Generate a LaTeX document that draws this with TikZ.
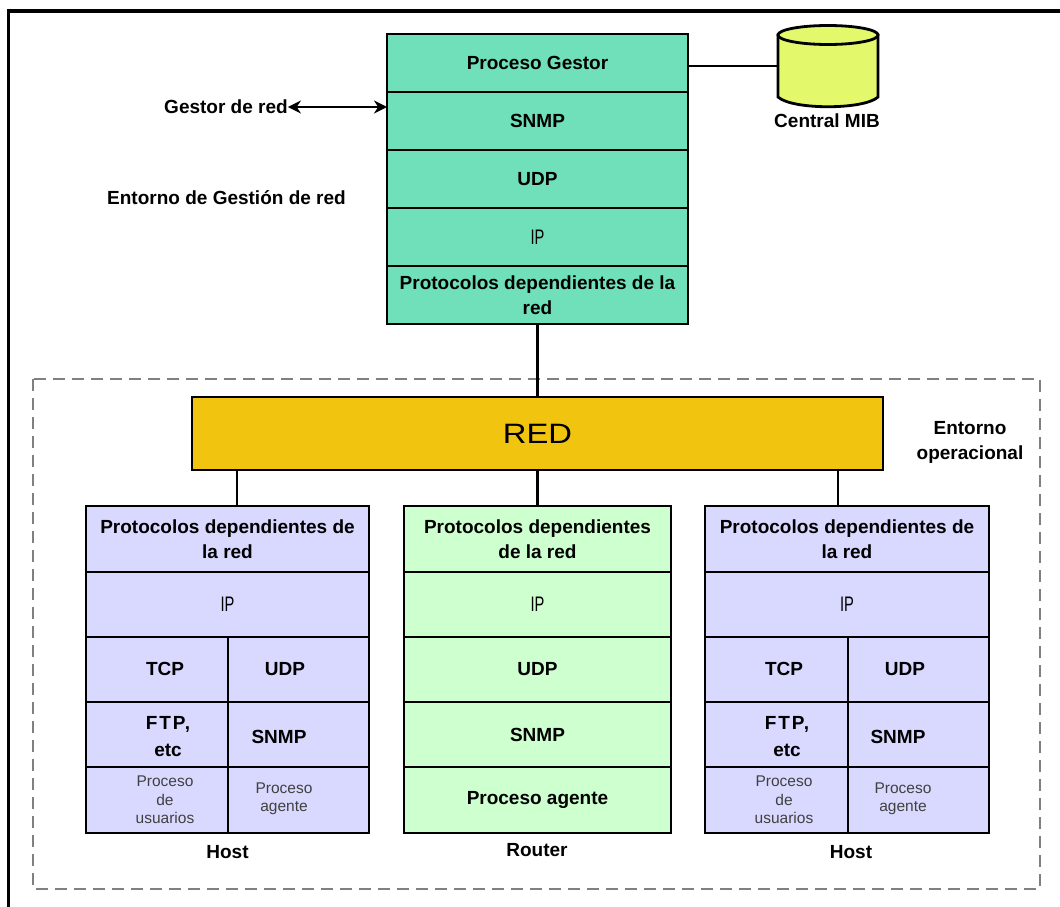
\documentclass[tikz,border=0pt]{standalone}
\usepackage{fontspec}
\setmainfont{Liberation Sans}
\usetikzlibrary{arrows.meta}
\definecolor{gestor}{HTML}{6FE0BA}
\definecolor{amarillo}{HTML}{E4F86C}
\definecolor{ocre}{HTML}{F0C40F}
\definecolor{lila}{HTML}{D9D9FF}
\definecolor{verde}{HTML}{CEFFCE}
\newcommand{\capaIp}{\scalebox{.7}[1]{IP}}
\tikzset{
  capa/.style={draw, line width=2.8pt, inner sep=0pt, outer sep=0pt, align=center, font=\bfseries\fontsize{19}{25}\selectfont},
  linea/.style={line width=2.8pt},
  texto/.style={inner sep=0pt, align=center, font=\bfseries\fontsize{19}{25}\selectfont},
  fino/.style={inner sep=0pt, align=center, font=\fontsize{15.5}{18.5}\selectfont, text=black!75},
  delgado/.style={font=\fontsize{21}{25}\selectfont}
}
\begin{document}
\begin{tikzpicture}[x=1pt, y=-1pt]
  \useasboundingbox (0, 0) rectangle (1060, 907);
  \draw[line width=3.6pt] (8.5, 907) -- (8.5, 11) -- (1060, 11);
  \draw[line width=2.6pt, gray, dash pattern=on 12pt off 7pt] (33, 379) rectangle (1040, 889);

  \node[capa, fill=gestor, minimum width=301pt, minimum height=58pt] (gesProceso) at (537.5, 63) {Proceso Gestor};
  \node[capa, fill=gestor, minimum width=301pt, minimum height=58pt] (gesSnmp) at (537.5, 121) {SNMP};
  \node[capa, fill=gestor, minimum width=301pt, minimum height=58pt] (gesUdp) at (537.5, 179) {UDP};
  \node[capa, delgado, fill=gestor, minimum width=301pt, minimum height=58pt] (gesIp) at (537.5, 237) {\capaIp};
  \node[capa, fill=gestor, minimum width=301pt, minimum height=58pt] (gesProto) at (537.5, 295) {Protocolos dependientes de la\\red};

  \node[inner sep=0pt, minimum width=100pt, minimum height=81pt] (mib) at (828, 66) {};
  \draw[linea, fill=amarillo] (778, 35) -- (778, 97)
    .. controls (792, 110) and (864, 110)
    .. (878, 97) -- (878, 35) -- cycle;
  \draw[linea, fill=amarillo] (828, 35) ellipse (50pt and 9.5pt);
  \node[texto] (mibTexto) at (827, 121) {Central MIB};
  \draw[linea] (gesProceso.east |- mib.west) -- (mib.west);

  \node[texto] (gestorRed) at (226, 107) {Gestor de red};
  \node[texto] (entornoGes) at (226.5, 198) {Entorno de Gestión de red};
  \draw[linea, {Stealth[length=13pt, width=13pt]}-{Stealth[length=13pt, width=13pt]}] (gestorRed.east) -- (gestorRed.east -| gesSnmp.west);

  \node[capa, font=\fontsize{28}{30}\selectfont, fill=ocre, minimum width=691pt, minimum height=73pt] (red) at (537.5, 433.5) {\scalebox{1.17}[1]{RED}};
  \node[texto] (entornoOp) at (970, 442) {Entorno\\operacional};
  \draw[linea] (gesProto.south) -- (gesProto.south |- red.north);

  \node[capa, fill=lila, minimum width=283pt, minimum height=66pt] (hostaProto) at (227.5, 539) {Protocolos dependientes de\\la red};
  \node[capa, delgado, fill=lila, minimum width=283pt, minimum height=65pt] (hostaIp) at (227.5, 604.5) {\capaIp};
  \node[capa, fill=lila, minimum width=142pt, minimum height=65pt] (hostaTcp) at (157, 669.5) {};
  \node[capa, fill=lila, minimum width=141pt, minimum height=65pt] (hostaUdp) at (298.5, 669.5) {};
  \node[capa, fill=lila, minimum width=142pt, minimum height=65pt] (hostaFtp) at (157, 734.5) {};
  \node[capa, fill=lila, minimum width=141pt, minimum height=65pt] (hostaSnmp) at (298.5, 734.5) {};
  \node[capa, fill=lila, minimum width=142pt, minimum height=66pt] (hostaUsr) at (157, 800) {};
  \node[capa, fill=lila, minimum width=141pt, minimum height=66pt] (hostaAge) at (298.5, 800) {};
  \node[texto] (hostaTcpT) at (165, 669) {TCP};
  \node[texto] (hostaUdpT) at (285, 669) {UDP};
  \node[texto] (hostaFtpT) at (168, 737) {{\addfontfeature{LetterSpace=10}FTP,}\\[2pt]etc};
  \node[texto] (hostaSnmpT) at (279, 737) {SNMP};
  \node[fino] (hostaUsrT) at (165, 800) {Proceso\\de\\usuarios};
  \node[fino] (hostaAgeT) at (284, 799) {Proceso\\agente};
  \node[texto] (hostaT) at (227.5, 852) {Host};

  \node[capa, fill=verde, minimum width=267pt, minimum height=66pt] (routerProto) at (537.5, 539) {Protocolos dependientes\\de la red};
  \node[capa, delgado, fill=verde, minimum width=267pt, minimum height=65pt] (routerIp) at (537.5, 604.5) {\capaIp};
  \node[capa, fill=verde, minimum width=267pt, minimum height=65pt] (routerUdp) at (537.5, 669.5) {UDP};
  \node[capa, fill=verde, minimum width=267pt, minimum height=65pt] (routerSnmp) at (537.5, 734.5) {SNMP};
  \node[capa, fill=verde, minimum width=267pt, minimum height=66pt] (routerAge) at (537.5, 800) {Proceso agente};
  \node[texto] (routerT) at (537, 850) {Router};

  \node[capa, fill=lila, minimum width=284pt, minimum height=66pt] (hostbProto) at (847, 539) {Protocolos dependientes de\\la red};
  \node[capa, delgado, fill=lila, minimum width=284pt, minimum height=65pt] (hostbIp) at (847, 604.5) {\capaIp};
  \node[capa, fill=lila, minimum width=143pt, minimum height=65pt] (hostbTcp) at (776.5, 669.5) {};
  \node[capa, fill=lila, minimum width=141pt, minimum height=65pt] (hostbUdp) at (918.5, 669.5) {};
  \node[capa, fill=lila, minimum width=143pt, minimum height=65pt] (hostbFtp) at (776.5, 734.5) {};
  \node[capa, fill=lila, minimum width=141pt, minimum height=65pt] (hostbSnmp) at (918.5, 734.5) {};
  \node[capa, fill=lila, minimum width=143pt, minimum height=66pt] (hostbUsr) at (776.5, 800) {};
  \node[capa, fill=lila, minimum width=141pt, minimum height=66pt] (hostbAge) at (918.5, 800) {};
  \node[texto] (hostbTcpT) at (784, 669) {TCP};
  \node[texto] (hostbUdpT) at (905, 669) {UDP};
  \node[texto] (hostbFtpT) at (787, 737) {{\addfontfeature{LetterSpace=10}FTP,}\\[2pt]etc};
  \node[texto] (hostbSnmpT) at (898, 737) {SNMP};
  \node[fino] (hostbUsrT) at (784, 800) {Proceso\\de\\usuarios};
  \node[fino] (hostbAgeT) at (903, 799) {Proceso\\agente};
  \node[texto] (hostbT) at (851, 852) {Host};

  \coordinate (tomaA) at (237, 506);
  \coordinate (tomaB) at (838, 506);
  \draw[linea] (tomaA) -- (tomaA |- red.south);
  \draw[linea] (routerProto.north) -- (routerProto.north |- red.south);
  \draw[linea] (tomaB) -- (tomaB |- red.south);
\end{tikzpicture}
\end{document}
